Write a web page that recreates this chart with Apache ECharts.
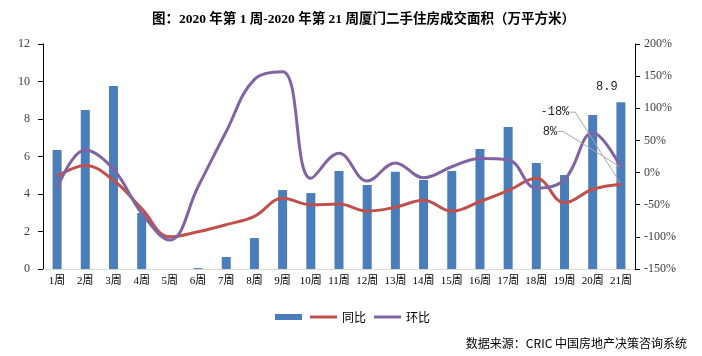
<!DOCTYPE html>
<html><head><meta charset="utf-8">
<script src="https://cdn.jsdelivr.net/npm/echarts@6/dist/echarts.min.js"></script>
<style>html,body{margin:0;padding:0;background:#fff}#c{width:702px;height:356px}</style>
</head><body><div id="c"></div>
<script>
var categories = ['1周','2周','3周','4周','5周','6周','7周','8周','9周','10周','11周','12周','13周','14周','15周','16周','17周','18周','19周','20周','21周'];
var areaValues = [6.35, 8.48, 9.76, 2.99, 0, 0.05, 0.64, 1.65, 4.21, 4.05, 5.23, 4.48, 5.19, 4.75, 5.23, 6.4, 7.57, 5.65, 5.01, 8.21, 8.9];
var yoyValues = [-6, 11, -12, -56, -100, -92, -81, -68, -40, -50, -49, -60, -54, -43, -60, -45, -28, -9, -47, -26, -18];
var momValues = [-25, 35, 5, -63, -105, -22, 64, 145, 157, -9, 30, -13, 15, -8, 9, 22, 20, -24, -11, 62, 8];
var leftTicks = {min: 0, max: 12, interval: 2};
var rightTicks = {min: -150, max: 200, interval: 50};

var serif = '"Liberation Serif", "Noto Sans CJK SC", serif';
var cjk = '"Noto Sans CJK SC", sans-serif';
var mono = '"Liberation Mono", "DejaVu Sans Mono", monospace';
var lineIcon = 'path://M0,0L27,0L27,3L0,3Z';

function lastLabelData(arr, labelText) {
  return arr.map(function (v, i) {
    if (i !== arr.length - 1) return v;
    return {
      value: v,
      symbol: 'circle',
      symbolSize: 2,
      label: {
        show: true, position: 'inside', formatter: labelText,
        fontFamily: mono, fontSize: 12, color: '#222'
      },
      labelLine: {show: true, length2: 6, lineStyle: {color: '#a6a6a6', width: 1}}
    };
  });
}

var chart = echarts.init(document.getElementById('c'), null, {renderer: 'canvas'});
chart.setOption({
  animation: false,
  title: {
    text: '图：2020 年第 1 周-2020 年第 21 周厦门二手住房成交面积（万平方米）',
    left: 147, top: 8,
    textStyle: {fontSize: 13.5, fontWeight: 'bold', color: '#000', fontFamily: serif}
  },
  grid: {left: 43, right: 67, top: 44, bottom: 87, containLabel: false},
  legend: {
    left: 270, top: 306, itemGap: 8, itemWidth: 27, itemHeight: 6,
    data: [{name: '面积', icon: 'rect'}, {name: '同比', icon: lineIcon}, {name: '环比', icon: lineIcon}],
    formatter: function (n) { return n === '面积' ? '' : n; },
    textStyle: {fontSize: 12, color: '#000', fontFamily: cjk}
  },
  graphic: [{
    type: 'text', right: 15, top: 337,
    style: {text: '数据来源：CRIC 中国房地产决策咨询系统', fontSize: 12, fill: '#000', fontFamily: cjk}
  }],
  xAxis: {
    type: 'category', data: categories,
    axisLine: {lineStyle: {color: '#d9d9d9'}},
    axisTick: {show: false},
    axisLabel: {interval: 0, fontSize: 11, color: '#000', fontFamily: serif, margin: 7}
  },
  yAxis: [{
    type: 'value', min: leftTicks.min, max: leftTicks.max, interval: leftTicks.interval,
    splitLine: {show: false},
    axisLine: {show: true, lineStyle: {color: '#000'}},
    axisTick: {show: true, length: 5, lineStyle: {color: '#000'}},
    axisLabel: {fontSize: 12, color: '#404040', fontFamily: serif, margin: 13}
  }, {
    type: 'value', min: rightTicks.min, max: rightTicks.max, interval: rightTicks.interval,
    position: 'right',
    splitLine: {show: false},
    axisLine: {show: true, lineStyle: {color: '#000'}},
    axisTick: {show: true, length: 5, lineStyle: {color: '#000'}},
    axisLabel: {fontSize: 12, color: '#404040', fontFamily: serif, margin: 9, formatter: '{value}%'}
  }],
  series: [{
    name: '面积', type: 'bar', barWidth: 9,
    itemStyle: {color: '#4a7ebb'},
    data: areaValues.map(function (v, i) {
      if (i !== areaValues.length - 1) return v;
      return {value: v, label: {show: true, position: 'top', offset: [-14, -4], fontFamily: mono, fontSize: 12, color: '#222'}};
    })
  }, {
    name: '同比', type: 'line', yAxisIndex: 1, smooth: 0.4,
    showSymbol: true, symbol: 'none',
    itemStyle: {color: '#c0504d'},
    lineStyle: {color: '#c0504d', width: 3},
    labelLayout: {dx: -66, dy: -72},
    data: lastLabelData(yoyValues, '-18%')
  }, {
    name: '环比', type: 'line', yAxisIndex: 1, smooth: 0.4,
    showSymbol: true, symbol: 'none',
    itemStyle: {color: '#8064a2'},
    lineStyle: {color: '#8064a2', width: 3},
    labelLayout: {dx: -71, dy: -36},
    data: lastLabelData(momValues, '8%')
  }]
});
</script></body></html>
